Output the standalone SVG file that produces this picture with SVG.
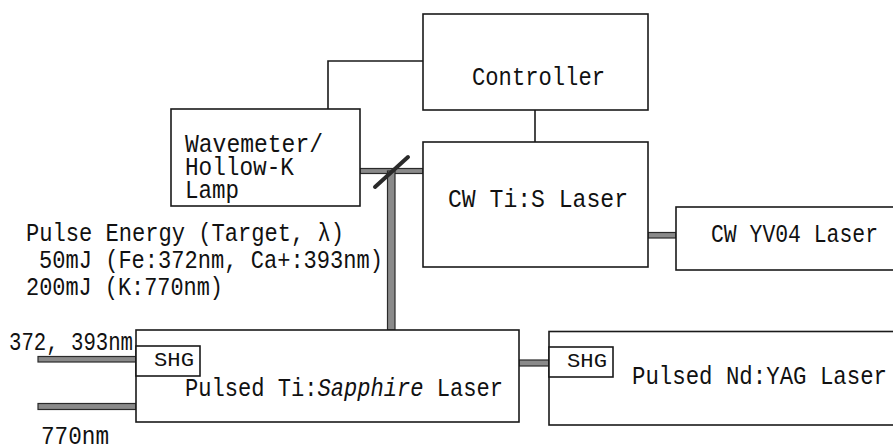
<svg xmlns="http://www.w3.org/2000/svg" width="893" height="448" viewBox="0 0 893 448">
<style>
.box{fill:#fff;stroke:#1a1a1a;stroke-width:1.6}
.wire{fill:none;stroke:#1a1a1a;stroke-width:1.6}
.beam{fill:#8a8a8a;stroke:#2a2a2a;stroke-width:1.2}
.t{font-family:"Liberation Mono","DejaVu Sans Mono",monospace;font-size:26px;fill:#111}
.s{font-family:"Liberation Mono","DejaVu Sans Mono",monospace;font-size:21px;fill:#111}
</style>
<rect width="893" height="448" fill="#fff"/>
<g id="connectors">
<polyline class="wire" points="328,109 328,61 423,61"/>
<line class="wire" x1="535" y1="110" x2="535" y2="142"/>
<rect class="beam" x="360" y="168.5" width="63" height="5"/>
<rect class="beam" x="387.5" y="171" width="7.5" height="159"/>
<line x1="375" y1="187" x2="408" y2="157" stroke="#2a2a2a" stroke-width="4" stroke-linecap="round"/>
<rect class="beam" x="648" y="232.5" width="28" height="5.5"/>
<rect class="beam" x="519" y="360" width="30" height="6"/>
<rect class="beam" x="38" y="356.5" width="98" height="5.5"/>
<rect class="beam" x="38" y="403.5" width="98" height="6"/>
</g>
<g id="controller">
<rect class="box" x="423" y="14" width="225" height="96"/>
<text class="t" x="472" y="85" textLength="133" lengthAdjust="spacingAndGlyphs">Controller</text>
</g>
<g id="wavemeter">
<rect class="box" x="171" y="109" width="189" height="97"/>
<text class="t" x="185" y="152" textLength="138" lengthAdjust="spacingAndGlyphs">Wavemeter/</text>
<text class="t" x="185" y="175" textLength="109" lengthAdjust="spacingAndGlyphs">Hollow-K</text>
<text class="t" x="185" y="198" textLength="54" lengthAdjust="spacingAndGlyphs">Lamp</text>
</g>
<g id="cw-tis">
<rect class="box" x="423" y="142" width="225" height="125"/>
<text class="t" x="448" y="207" textLength="180" lengthAdjust="spacingAndGlyphs">CW Ti:S Laser</text>
</g>
<g id="cw-yvo4">
<rect class="box" x="676" y="207" width="230" height="63"/>
<text class="t" x="711" y="242" textLength="167" lengthAdjust="spacingAndGlyphs">CW YV04 Laser</text>
</g>
<g id="pulse-energy">
<text class="t" x="26" y="241" textLength="318" lengthAdjust="spacingAndGlyphs">Pulse Energy (Target, λ)</text>
<text class="t" x="39" y="268" textLength="344" lengthAdjust="spacingAndGlyphs">50mJ (Fe:372nm, Ca+:393nm)</text>
<text class="t" x="26" y="295" textLength="197" lengthAdjust="spacingAndGlyphs">200mJ (K:770nm)</text>
</g>
<g id="pulsed-tis">
<rect class="box" x="136" y="330" width="383" height="92"/>
<rect class="box" x="136" y="346" width="64" height="30"/>
<text class="s" x="154" y="366" textLength="40" lengthAdjust="spacingAndGlyphs">SHG</text>
<text class="t" x="185" y="396" textLength="318" lengthAdjust="spacingAndGlyphs">Pulsed Ti:<tspan font-style="oblique 8deg">Sapphire</tspan> Laser</text>
</g>
<g id="pulsed-ndyag">
<rect class="box" x="549" y="331.5" width="360" height="93.5"/>
<rect class="box" x="549" y="347" width="64" height="30"/>
<text class="s" x="567" y="367" textLength="40" lengthAdjust="spacingAndGlyphs">SHG</text>
<text class="t" x="632" y="384" textLength="255" lengthAdjust="spacingAndGlyphs">Pulsed Nd:YAG Laser</text>
</g>
<g id="labels">
<text class="t" x="9" y="350" textLength="124" lengthAdjust="spacingAndGlyphs">372, 393nm</text>
<text class="t" x="41" y="444" textLength="68" lengthAdjust="spacingAndGlyphs">770nm</text>
</g>
</svg>
